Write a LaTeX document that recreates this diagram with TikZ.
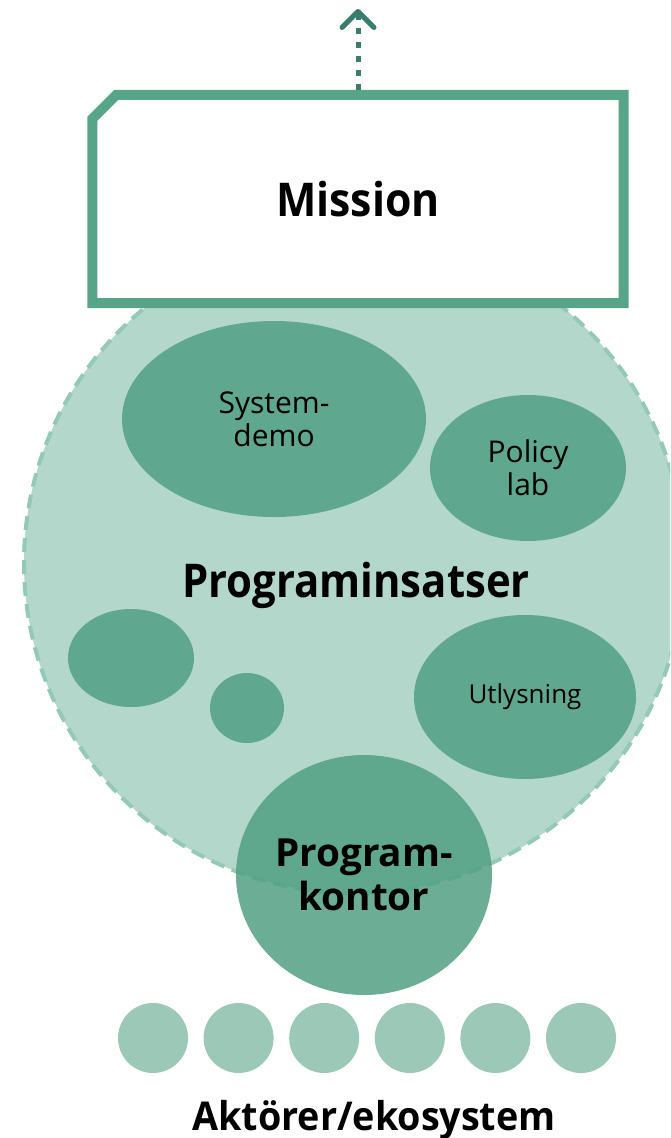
\documentclass[tikz,border=0pt]{standalone}
\usepackage{fontspec}
\setmainfont{Open Sans}
\usetikzlibrary{shapes.geometric,arrows.meta}
\definecolor{boxc}{HTML}{58A489}
\definecolor{arrowc}{HTML}{3A7D6E}
\definecolor{bigfill}{HTML}{B4D7CB}
\definecolor{bigedge}{HTML}{93C9B5}
\definecolor{innerc}{HTML}{5FA88F}
\definecolor{kontorc}{HTML}{51A083}
\definecolor{actorc}{HTML}{9BC8B7}
\tikzset{
  blob/.style={ellipse, fill=innerc, draw=none, inner sep=0pt, align=center, text=black},
  actor/.style={circle, fill=actorc, draw=none, minimum size=70pt, inner sep=0pt},
  midtxt/.style={font=\fontsize{30}{33.4}\selectfont},
  bigtxt/.style={font=\bfseries\fontsize{46.5}{50}\selectfont},
}
\begin{document}
\begin{tikzpicture}[x=1pt,y=-1pt]
\useasboundingbox (0,0) rectangle (670,1138);
\clip (0,0) rectangle (670,1138);
% big dashed circle
\node[circle, minimum size=660pt, inner sep=0pt, fill=bigfill, draw=bigedge,
      line width=4pt, dash pattern=on 14pt off 8pt] (insatser) at (354,563) {};
% inner blobs
\node[blob, minimum width=304pt, minimum height=196pt, midtxt] (sysdemo) at (274,419) {System-\\demo};
\node[blob, minimum width=196pt, minimum height=146pt, midtxt] (policy) at (528,468) {Policy\\lab};
\node[blob, minimum width=222pt, minimum height=164pt, font=\fontsize{26}{30}\selectfont] (utlys) at (525,697) {Utlysning};
\node[blob, minimum width=126pt, minimum height=98pt] (blobA) at (131,658) {};
\node[blob, minimum width=74pt, minimum height=70pt] (blobB) at (247,708) {};
\node[bigtxt, anchor=base] (pinsats) at (356,597) {\scalebox{0.9}[1]{Programinsatser}};
% program office
\node[ellipse, minimum width=256pt, minimum height=240pt, inner sep=0pt,
      fill=kontorc, fill opacity=0.85, text opacity=1, align=center,
      font=\bfseries\fontsize{38.7}{43.4}\selectfont] (kontor) at (364,875) {Program-\\kontor};
% mission box
\node[minimum width=531pt, minimum height=208pt, inner sep=0pt, fill=white,
      bigtxt] (mission) at (358,199) {\scalebox{0.92}[1]{Mission}};
\draw[boxc, line width=10pt, line join=miter]
  (mission.south west) -- ([yshift=-24pt]mission.north west)
  -- ([xshift=24pt]mission.north west) -- (mission.north east)
  -- (mission.south east) -- cycle;
% arrow upward
\coordinate (top) at (358,9);
\draw[arrowc, line width=5pt, dash pattern=on 6pt off 8pt,
      -{Straight Barb[length=16pt, width=32pt, line width=5pt, round]}]
  ([yshift=5pt]mission.north) -- (top);
% actors
\foreach \i in {0,...,5} {
  \node[actor] (act\i) at ({153+85.6*\i},1038) {};
}
\node[font=\bfseries\fontsize{39.7}{44}\selectfont, anchor=base] (aktorer) at (374,1130) {\scalebox{0.95}[1]{Aktörer/ekosystem}};
\end{tikzpicture}
\end{document}
